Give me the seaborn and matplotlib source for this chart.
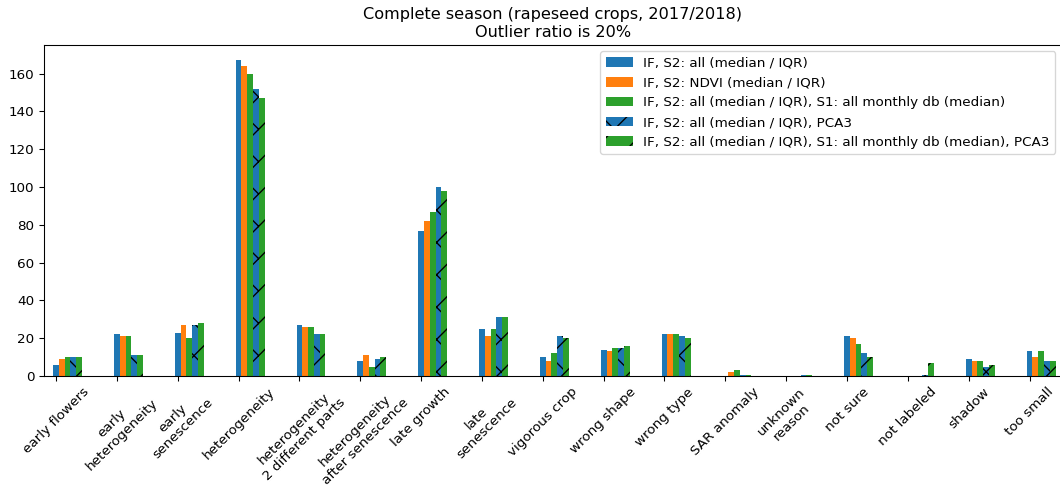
import matplotlib
matplotlib.use('Agg')
import matplotlib.pyplot as plt
from matplotlib.patches import Patch
import numpy as np
import pandas as pd
import seaborn as sns

# anomaly reasons (x axis)
reasons = ['early flowers', 'early\nheterogeneity', 'early\nsenescence', 'heterogeneity',
           'heterogeneity\n2 different parts', 'heterogeneity\nafter senescence', 'late growth',
           'late\nsenescence', 'vigorous crop', 'wrong shape', 'wrong type', 'SAR anomaly',
           'unknown\nreason', 'not sure', 'not labeled', 'shadow', 'too small']

setups = ['IF, S2: all (median / IQR)',
          'IF, S2: NDVI (median / IQR)',
          'IF, S2: all (median / IQR), S1: all monthly db (median)',
          'IF, S2: all (median / IQR), PCA3',
          'IF, S2: all (median / IQR), S1: all monthly db (median), PCA3']

s2_all = [6, 22, 23, 167, 27, 8, 77, 25, 10, 14, 22, 0, 0, 21, 0, 9, 13]
s2_ndvi = [9, 21, 27, 164, 26, 11, 82, 21, 8, 13, 22, 2, 0, 20, 0, 8, 10]
s2_s1 = [10, 21, 20, 160, 26, 5, 87, 25, 12, 15, 22, 3, 0, 17, 0, 8, 13]
s2_pca = [10, 11, 27, 152, 22, 9, 100, 31, 21, 15, 21, 0.3, 0.3, 12, 0.3, 5, 8]
s2_s1_pca = [10, 11, 28, 147, 22, 10, 98, 31, 20, 16, 20, 0.3, 0.3, 10, 7, 6, 8]

colors = ['#1f77b4', '#ff7f0e', '#2ca02c', '#1f77b4', '#2ca02c']
hatches = ['', '', '', 'x', '/']

rows = []
for setup, vals in zip(setups, [s2_all, s2_ndvi, s2_s1, s2_pca, s2_s1_pca]):
    for reason, v in zip(reasons, vals):
        rows.append({'reason': reason, 'setup': setup, 'count': v})
df = pd.DataFrame(rows)

DPI = 97
fig = plt.figure(figsize=(1060 / DPI, 488 / DPI), dpi=DPI)
ax = fig.add_axes([43.7 / 1060, 112 / 488, (1062 - 43.7) / 1060, (376 - 44.7) / 488])

sns.barplot(data=df, x='reason', y='count', hue='setup', order=reasons, hue_order=setups,
            palette=colors, saturation=1, width=0.475, errorbar=None, legend=False,
            linewidth=0, ax=ax)

for cont, h in zip(ax.containers, hatches):
    for bar in cont.patches:
        bar.set_hatch(h)

# ticks sit at the left bar of each group
ax.set_xticks(np.arange(len(reasons)) - 0.19)
ax.set_xticklabels(reasons, rotation=45, ha='center', multialignment='center')
ax.set_xlim(-0.392, -0.392 + (1062 - 43.7) / 60.85)
ax.set_ylim(0, 175.35)
ax.set_xlabel('')
ax.set_ylabel('')
ax.set_title('Complete season (rapeseed crops, 2017/2018)\nOutlier ratio is 20%', fontsize=12)

handles = [Patch(facecolor=c, hatch=h, label=s) for c, h, s in zip(colors, hatches, setups)]
ax.legend(handles=handles, loc='upper right', fontsize=10)

fig.savefig('out.png', dpi=DPI)
